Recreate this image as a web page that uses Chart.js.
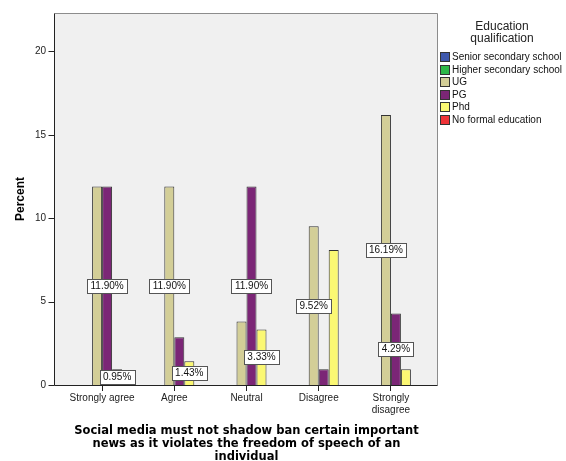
<!DOCTYPE html>
<html><head><meta charset="utf-8">
<script src="https://cdn.jsdelivr.net/npm/chart.js@4/dist/chart.umd.min.js"></script>
<style>
html,body{margin:0;padding:0;background:#fff;}
#wrap{position:relative;width:566px;height:461px;overflow:hidden;}
#c{position:absolute;left:0;top:0;}
#legend{position:absolute;left:438px;top:0;width:128px;font-family:"Liberation Sans",Arial,sans-serif;color:#111;}
#legend .ttl{position:absolute;left:0;width:128px;text-align:center;font-size:12px;line-height:12px;top:20px;color:#222;}
#legend .item{position:absolute;left:2px;height:12px;font-size:10px;line-height:12px;white-space:nowrap;}
#legend .sw{display:inline-block;width:8px;height:8px;border:1px solid #333;vertical-align:top;margin-top:1px;margin-right:2px;}
</style></head><body>
<div id="wrap"><canvas id="c" width="566" height="461"></canvas><div id="legend"></div></div>
<script>
// ---- data ----
const categories = ['Strongly agree', 'Agree', 'Neutral', 'Disagree', ['Strongly', 'disagree']];
const seriesNames = ['Senior secondary school', 'Higher secondary school', 'UG', 'PG', 'Phd', 'No formal education'];
const seniorValues   = [null, null, null, null, null];
const higherValues   = [null, null, null, null, null];
const ugValues       = [11.90, 11.90, 3.81, 9.52, 16.19];
const pgValues       = [11.90, 2.86, 11.90, 0.95, 4.29];
const phdValues      = [0.95, 1.43, 3.33, 8.10, 0.95];
const noFormalValues = [null, null, null, null, null];
const seniorLabelShown   = [false, false, false, false, false];
const higherLabelShown   = [false, false, false, false, false];
const ugLabelShown       = [false, true, false, true, true];
const pgLabelShown       = [true, false, true, false, true];
const phdLabelShown      = [true, true, true, false, false];
const noFormalLabelShown = [false, false, false, false, false];
const yTickValues = [0, 5, 10, 15, 20];
const yTitle = 'Percent';
const xTitle = ['Social media must not shadow ban certain important', 'news as it violates the freedom of speech of an', 'individual'];
const legendTitle = ['Education', 'qualification'];

// ---- styles ----
const seriesColors = ['#3E58AC', '#2EB848', '#D3CE97', '#7B2676', '#FBF873', '#EF3338'];
const allValues = [seniorValues, higherValues, ugValues, pgValues, phdValues, noFormalValues];
const allLabelShown = [seniorLabelShown, higherLabelShown, ugLabelShown, pgLabelShown, phdLabelShown, noFormalLabelShown];
const FRAME_EXTRA_LEFT = 12, FRAME_EXTRA_RIGHT = 10;

// legend (HTML)
const lg = document.getElementById('legend');
const t = document.createElement('div'); t.className = 'ttl'; t.innerHTML = legendTitle.join('<br>'); lg.appendChild(t);
seriesNames.forEach((n, i) => {
  const d = document.createElement('div'); d.className = 'item';
  d.style.top = (51 + i * 12.5) + 'px';
  const s = document.createElement('span'); s.className = 'sw'; s.style.background = seriesColors[i];
  d.appendChild(s); d.appendChild(document.createTextNode(n)); lg.appendChild(d);
});

const framePlugin = {
  id: 'frame',
  beforeDatasetsDraw(chart) {
    const {ctx, chartArea: a} = chart;
    const l = a.left - FRAME_EXTRA_LEFT, r = a.right + FRAME_EXTRA_RIGHT;
    ctx.save();
    ctx.fillStyle = '#F0F0F0';
    ctx.fillRect(l, a.top, r - l, a.bottom - a.top);
    ctx.restore();
  },
  afterDatasetsDraw(chart) {
    const {ctx, chartArea: a, scales} = chart;
    const l = Math.round(a.left - FRAME_EXTRA_LEFT) + 0.5, r = Math.round(a.right + FRAME_EXTRA_RIGHT) + 0.5;
    const top = Math.round(a.top) + 0.5, bot = Math.round(a.bottom) + 0.5;
    ctx.save();
    ctx.lineWidth = 1;
    ctx.strokeStyle = '#8c8c8c';
    ctx.beginPath(); ctx.moveTo(l, top); ctx.lineTo(r, top); ctx.lineTo(r, bot); ctx.stroke();
    ctx.strokeStyle = '#222';
    ctx.beginPath(); ctx.moveTo(l, top); ctx.lineTo(l, bot); ctx.lineTo(r, bot); ctx.stroke();
    // y tick marks
    scales.y.ticks.forEach(tk => {
      const y = Math.round(scales.y.getPixelForValue(tk.value)) + 0.5;
      ctx.beginPath(); ctx.moveTo(l - 6, y); ctx.lineTo(l, y); ctx.stroke();
    });
    // value labels
    ctx.font = '10px "Liberation Sans", Arial, sans-serif';
    ctx.textAlign = 'center'; ctx.textBaseline = 'middle';
    chart.data.datasets.forEach((ds, di) => {
      const meta = chart.getDatasetMeta(di);
      meta.data.forEach((el, i) => {
        const v = ds.data[i];
        if (v == null || !allLabelShown[di][i]) return;
        const txt = v.toFixed(2) + '%';
        const w = Math.ceil(ctx.measureText(txt).width) + 6, h = 14;
        let cy = (el.y + el.base) / 2;
        cy = Math.min(cy, el.base - 8);
        const bx = Math.round(el.x - w / 2) + 0.5, by = Math.round(cy - h / 2) + 0.5;
        ctx.fillStyle = '#fff'; ctx.fillRect(bx, by, w, h);
        ctx.strokeStyle = '#555'; ctx.strokeRect(bx, by, w, h);
        ctx.fillStyle = '#111'; ctx.fillText(txt, el.x, cy + 0.5);
      });
    });
    ctx.restore();
  }
};

new Chart(document.getElementById('c'), {
  type: 'bar',
  data: {
    labels: categories,
    datasets: seriesNames.map((n, i) => ({
      label: n,
      data: allValues[i],
      backgroundColor: seriesColors[i],
      borderColor: '#333',
      borderWidth: 1,
      categoryPercentage: 0.831,
      barPercentage: 1.0
    }))
  },
  options: {
    responsive: false,
    animation: false,
    layout: {padding: {left: 0, top: 13, right: 139, bottom: -2}},
    plugins: {legend: {display: false}, tooltip: {enabled: false}},
    scales: {
      x: {
        grid: {display: true, drawOnChartArea: false, drawTicks: true, tickLength: 6, color: '#222', offset: false},
        border: {display: false},
        ticks: {padding: 1, color: '#222', font: {family: '"Liberation Sans", Arial, sans-serif', size: 10}, maxRotation: 0, autoSkip: false},
        title: {display: true, text: xTitle, color: '#000', padding: {top: 0, bottom: 0},
                font: {family: '"DejaVu Sans", Verdana, sans-serif', size: 11.5, weight: 'bold', lineHeight: 1.1}},
        afterFit: s => { s.height = 78; s.paddingLeft = 0; s.paddingRight = 0; }
      },
      y: {
        min: 0, max: 22.3,
        afterBuildTicks: s => { s.ticks = yTickValues.map(v => ({value: v})); },
        grid: {display: false, drawTicks: false},
        border: {display: false},
        ticks: {padding: 20, color: '#222', font: {family: '"Liberation Sans", Arial, sans-serif', size: 10}},
        title: {display: true, text: yTitle, color: '#000', padding: {top: 13, bottom: 0},
                font: {family: '"Liberation Sans", Arial, sans-serif', size: 12, weight: 'bold', lineHeight: 1.2}},
        afterFit: s => { s.width = 66; s.paddingTop = 0; s.paddingBottom = 0; }
      }
    }
  },
  plugins: [framePlugin]
});
</script>
</body></html>
